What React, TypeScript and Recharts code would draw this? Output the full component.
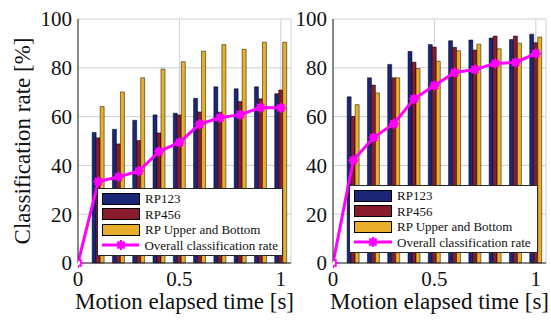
import React from 'react'
import {
  ComposedChart,
  Bar,
  Line,
  XAxis,
  YAxis,
  CartesianGrid,
  Legend,
} from 'recharts'

// elapsed time, seconds (0 has only the line point)
const times = [0, 0.1, 0.2, 0.3, 0.4, 0.5, 0.6, 0.7, 0.8, 0.9, 1.0]

// left panel
const leftRP123 = [null, 53.5, 54.8, 58.5, 60.7, 61.4, 67.5, 72.2, 71.4, 72.2, 69.4]
const leftRP456 = [null, 51.3, 48.8, 50.2, 53.3, 60.7, 61.9, 61.8, 66.2, 67.3, 70.9]
const leftUpperBottom = [null, 64.1, 70.1, 75.9, 79.5, 82.5, 86.8, 89.5, 87.6, 90.5, 90.5]
const leftOverall = [0, 33.4, 35.3, 37.7, 45.7, 49.4, 56.9, 59.5, 60.8, 63.7, 63.6]

// right panel
const rightRP123 = [null, 68.1, 75.9, 81.4, 86.7, 89.5, 91.1, 91.4, 92.2, 91.6, 93.8]
const rightRP456 = [null, 60.1, 72.9, 75.9, 82.3, 88.5, 88.4, 87.3, 93.0, 93.0, 90.3]
const rightUpperBottom = [null, 64.9, 69.7, 75.9, 79.7, 82.7, 87.0, 89.7, 87.8, 90.1, 92.6]
const rightOverall = [0, 42.1, 51.4, 57.1, 67.3, 72.7, 78.1, 79.3, 81.8, 82.2, 85.9]

const xTicks = [0, 0.5, 1]
const yTicks = [0, 20, 40, 60, 80, 100]

const seriesNames = ['RP123', 'RP456', 'RP Upper and Bottom', 'Overall classification rate']

const NAVY = '#1b2677'
const CRIMSON = '#8a1b2c'
const GOLD = '#e8b02a'
const MAGENTA = '#ff00ff'
const FRAME = '#262626'
const FONT = 'Liberation Serif, DejaVu Serif, serif'

const build = (a: (number | null)[], b: (number | null)[], c: (number | null)[], line: number[]) =>
  times.map((t, i) => ({ t, rp123: a[i], rp456: b[i], ub: c[i], overall: line[i] }))

const leftData = build(leftRP123, leftRP456, leftUpperBottom, leftOverall)
const rightData = build(rightRP123, rightRP456, rightUpperBottom, rightOverall)

function StarDot(props: any) {
  const { cx, cy, index } = props
  if (cx == null || cy == null) return null
  const r = 5
  const spokes = [0, 45, 90, 135].map((a) => {
    const rad = (a * Math.PI) / 180
    const dx = Math.cos(rad) * r
    const dy = Math.sin(rad) * r
    return (
      <line key={a} x1={cx - dx} y1={cy - dy} x2={cx + dx} y2={cy + dy} stroke={MAGENTA} strokeWidth={2} />
    )
  })
  return (
    <g key={`dot-${index}`}>
      {spokes}
      <circle cx={cx} cy={cy} r={3} fill={index === 0 ? '#fff' : MAGENTA} stroke={MAGENTA} strokeWidth={1.5} />
    </g>
  )
}

function LegendBox() {
  const swatches = [NAVY, CRIMSON, GOLD]
  return (
    <div
      style={{
        background: '#fff',
        border: `1px solid ${FRAME}`,
        padding: '2px 4px',
        fontFamily: FONT,
        fontSize: 13,
        lineHeight: '15.5px',
        color: '#111',
      }}
    >
      {seriesNames.map((name, i) => (
        <div key={name} style={{ display: 'flex', alignItems: 'center', whiteSpace: 'nowrap' }}>
          {i < 3 ? (
            <span
              style={{
                display: 'inline-block',
                width: 36,
                height: 10,
                background: swatches[i],
                border: '1px solid #000',
                marginRight: 5,
              }}
            />
          ) : (
            <svg width={38} height={12} style={{ marginRight: 5 }}>
              <line x1={0} y1={6} x2={38} y2={6} stroke={MAGENTA} strokeWidth={3} />
              <StarDot cx={19} cy={6} index={1} />
            </svg>
          )}
          <span>{name}</span>
        </div>
      ))}
    </div>
  )
}

function YLabel(props: any) {
  const { viewBox } = props
  const x = viewBox.x + 22
  const y = viewBox.y + viewBox.height / 2
  return (
    <text
      x={x}
      y={y}
      transform={`rotate(-90, ${x}, ${y})`}
      textAnchor="middle"
      dominantBaseline="central"
      fontFamily={FONT}
      fontSize={23}
      fill="#111"
    >
      Classification rate [%]
    </text>
  )
}

function XLabel(props: any) {
  const { viewBox } = props
  return (
    <text
      x={viewBox.x + viewBox.width / 2}
      y={viewBox.y + 46}
      textAnchor="middle"
      fontFamily={FONT}
      fontSize={23}
      fill="#111"
    >
      Motion elapsed time [s]
    </text>
  )
}

const tickStyle = { fill: '#111', fontFamily: FONT, fontSize: 21 }

function Panel({
  data,
  width,
  yAxisWidth,
  showYLabel,
  legendPos,
}: {
  data: any[]
  width: number
  yAxisWidth: number
  showYLabel: boolean
  legendPos: { left: number; top: number; width: number }
}) {
  return (
    <ComposedChart
      width={width}
      height={320}
      data={data}
      margin={{ top: 19, right: width - yAxisWidth - 213, left: 0, bottom: 0 }}
      barGap={0}
      style={{ fontFamily: FONT }}
    >
      <CartesianGrid stroke="#cfcfcf" strokeWidth={1} />
      <XAxis
        type="number"
        dataKey="t"
        domain={[0, 1.05]}
        ticks={xTicks}
        allowDataOverflow
        height={57}
        tickLine={false}
        tickSize={0}
        tickMargin={8}
        tick={tickStyle}
        axisLine={{ stroke: FRAME }}
        label={<XLabel />}
      />
      <XAxis
        xAxisId="top"
        orientation="top"
        type="number"
        dataKey="t"
        domain={[0, 1.05]}
        allowDataOverflow
        height={0}
        tick={false}
        tickLine={false}
        axisLine={{ stroke: FRAME }}
      />
      <YAxis
        type="number"
        domain={[0, 100]}
        ticks={yTicks}
        width={yAxisWidth}
        tickLine={false}
        tickSize={0}
        tickMargin={6}
        tick={tickStyle}
        axisLine={{ stroke: FRAME }}
        label={showYLabel ? <YLabel /> : undefined}
      />
      <YAxis
        yAxisId="right"
        orientation="right"
        type="number"
        domain={[0, 100]}
        width={0}
        tick={false}
        tickLine={false}
        axisLine={{ stroke: FRAME }}
      />
      <Bar dataKey="rp123" name={seriesNames[0]} fill={NAVY} stroke="#000" strokeWidth={0.5} barSize={4} isAnimationActive={false} />
      <Bar dataKey="rp456" name={seriesNames[1]} fill={CRIMSON} stroke="#000" strokeWidth={0.5} barSize={4} isAnimationActive={false} />
      <Bar dataKey="ub" name={seriesNames[2]} fill={GOLD} stroke="#000" strokeWidth={0.5} barSize={4} isAnimationActive={false} />
      <Line
        dataKey="overall"
        name={seriesNames[3]}
        stroke={MAGENTA}
        strokeWidth={3}
        dot={<StarDot />}
        activeDot={false}
        isAnimationActive={false}
      />
      <Legend
        layout="vertical"
        align="center"
        verticalAlign="middle"
        content={<LegendBox />}
        wrapperStyle={{ left: legendPos.left, top: legendPos.top, width: legendPos.width }}
      />
    </ComposedChart>
  )
}

export default function App() {
  return (
    <div style={{ position: 'absolute', left: 0, top: 0, width: 551, height: 320, background: '#fff', display: 'flex' }}>
      <Panel data={leftData} width={294} yAxisWidth={78} showYLabel legendPos={{ left: 97, top: 188, width: 186 }} />
      <Panel data={rightData} width={257} yAxisWidth={39} showYLabel={false} legendPos={{ left: 55, top: 185, width: 189 }} />
    </div>
  )
}
